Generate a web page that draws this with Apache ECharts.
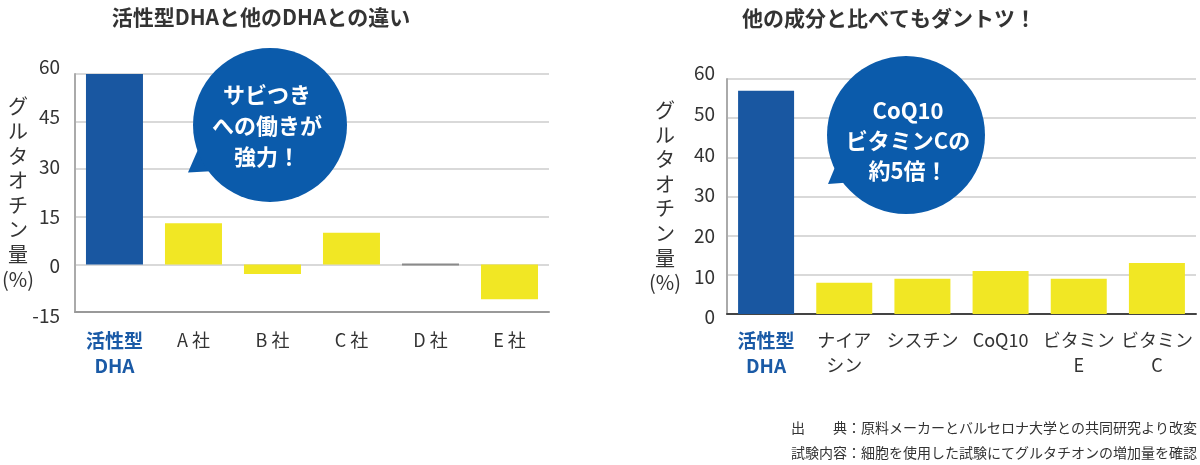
<!DOCTYPE html>
<html><head><meta charset="utf-8">
<script src="https://cdn.jsdelivr.net/npm/echarts@6/dist/echarts.min.js"></script>
<style>html,body{margin:0;padding:0;background:#fff}#c{width:1200px;height:465px}</style>
</head><body><div id="c"></div>
<script>
// ---- data ----
const leftTitle = '活性型DHAと他のDHAとの違い';
const leftCategories = ['活性型\nDHA', 'A 社', 'B 社', 'C 社', 'D 社', 'E 社'];
const leftValues = [60, 13, -3, 10, 0, -11];
const leftAxis = { min: -15, max: 60, interval: 15 };

const rightTitle = '他の成分と比べてもダントツ！';
const rightCategories = ['活性型\nDHA', 'ナイア\nシン', 'シスチン', 'CoQ10', 'ビタミン\nE', 'ビタミン\nC'];
const rightValues = [57, 8, 9, 11, 9, 13];
const rightAxis = { min: 0, max: 60, interval: 10 };

const yName = 'グ\nル\nタ\nオ\nチ\nン\n量\n(%)';
const leftBubble = 'サビつき\nへの働きが\n強力！';
const rightBubble = 'CoQ10\nビタミンCの\n約5倍！';
const footnotes = ['出　　典：原料メーカーとバルセロナ大学との共同研究より改変',
                   '試験内容：細胞を使用した試験にてグルタチオンの増加量を確認'];

// ---- style ----
const FONT = '"Noto Sans CJK JP", "Noto Sans", sans-serif';
const BLUE_BAR = '#1957a1';
const BLUE_BUBBLE = '#0b5bab';
const YELLOW = '#f1e724';
const TEXT = '#333333';

const chart = echarts.init(document.getElementById('c'), null, { renderer: 'canvas' });

function barData(values) {
  return values.map((v, i) => {
    if (i === 0) return { value: v, itemStyle: { color: BLUE_BAR } };
    if (v === 0) return { value: v, itemStyle: { color: '#8a8a8a', borderColor: '#8a8a8a', borderWidth: 2 } };
    return { value: v, itemStyle: { color: YELLOW } };
  });
}
function xLabelFormatter(value, idx) {
  const lines = value.split('\n');
  const tag = idx === 0 ? 'hl' : 'n';
  return lines.map(s => '{' + tag + '|' + s + '}').join('\n');
}
const xRich = {
  hl: { color: '#1a5aa6', fontSize: 19, fontWeight: 'bold', fontFamily: FONT, lineHeight: 25 },
  n: { color: TEXT, fontSize: 18, fontFamily: FONT, lineHeight: 25 }
};
// axis drawing the grid lines (no labels)
function yAxisLines(gridIndex, ax, nameGap) {
  return {
    type: 'value', gridIndex, min: ax.min, max: ax.max, interval: ax.interval,
    name: yName, nameLocation: 'middle', nameRotate: 0, nameGap,
    nameTextStyle: { color: TEXT, fontSize: 20, fontFamily: FONT, lineHeight: 24.6, align: 'center', verticalAlign: 'middle' },
    axisLine: { show: true, lineStyle: { color: '#aaaaaa', width: 2 } },
    axisTick: { show: false },
    axisLabel: { show: false },
    splitLine: { show: true, lineStyle: { color: '#cccccc', width: 1.5 } }
  };
}
// axis carrying the tick labels (labels spaced slightly wider than grid, as in the source artwork)
function yAxisLabels(gridIndex, ax, margin) {
  return {
    type: 'value', gridIndex, min: ax.min, max: ax.max, interval: ax.interval,
    axisLine: { show: false }, axisTick: { show: false }, splitLine: { show: false },
    axisLabel: { color: TEXT, fontSize: 19, fontFamily: FONT, margin }
  };
}

const option = {
  backgroundColor: '#ffffff',
  animation: false,
  title: [
    { text: leftTitle, left: 256, top: 2, textAlign: 'center',
      textStyle: { color: TEXT, fontSize: 21, fontWeight: 'bold', fontFamily: FONT } },
    { text: rightTitle, left: 884, top: 3, textAlign: 'center',
      textStyle: { color: TEXT, fontSize: 21, fontWeight: 'bold', fontFamily: FONT } }
  ],
  grid: [
    { left: 71, top: 74, width: 478, height: 238 },
    { left: 727, top: 79, width: 469, height: 235 },
    { left: 71, top: 67, width: 478, height: 249 },
    { left: 727, top: 73, width: 469, height: 244 }
  ],
  xAxis: [
    { type: 'category', gridIndex: 0, data: leftCategories,
      axisLine: { onZero: false, lineStyle: { color: '#999999', width: 2 } },
      axisTick: { show: false },
      axisLabel: { margin: 16, formatter: xLabelFormatter, rich: xRich, interval: 0 } },
    { type: 'category', gridIndex: 1, data: rightCategories,
      axisLine: { onZero: false, lineStyle: { color: '#444444', width: 2 } },
      axisTick: { show: false },
      axisLabel: { margin: 14, formatter: xLabelFormatter, rich: xRich, interval: 0 } },
    { type: 'category', gridIndex: 2, data: leftCategories, show: false },
    { type: 'category', gridIndex: 3, data: rightCategories, show: false }
  ],
  yAxis: [
    yAxisLines(0, leftAxis, 57),
    yAxisLines(1, rightAxis, 62),
    yAxisLabels(2, leftAxis, 11),
    yAxisLabels(3, rightAxis, 12)
  ],
  series: [
    { type: 'bar', xAxisIndex: 0, yAxisIndex: 0, data: barData(leftValues), barWidth: 57 },
    { type: 'bar', xAxisIndex: 1, yAxisIndex: 1, data: barData(rightValues), barWidth: 56 }
  ],
  graphic: [
    // left bubble
    { type: 'polygon', z: 10, shape: { points: [[200, 145], [188, 172.5], [215, 171]] }, style: { fill: BLUE_BUBBLE } },
    { type: 'circle', z: 10, shape: { cx: 270, cy: 125, r: 77 }, style: { fill: BLUE_BUBBLE } },
    { type: 'text', z: 11, x: 267, y: 126,
      style: { text: leftBubble, fill: '#ffffff', font: 'bold 22px ' + FONT, lineHeight: 31, align: 'center', verticalAlign: 'middle' } },
    // right bubble
    { type: 'polygon', z: 10, shape: { points: [[838, 160], [828, 184], [855, 182]] }, style: { fill: BLUE_BUBBLE } },
    { type: 'circle', z: 10, shape: { cx: 906, cy: 135, r: 79 }, style: { fill: BLUE_BUBBLE } },
    { type: 'text', z: 11, x: 908, y: 141,
      style: { text: rightBubble, fill: '#ffffff', font: 'bold 22px ' + FONT, lineHeight: 30, align: 'center', verticalAlign: 'middle' } },
    // footnotes
    { type: 'text', x: 1197, y: 428,
      style: { text: footnotes[0], fill: TEXT, font: '14px ' + FONT, align: 'right', verticalAlign: 'middle' } },
    { type: 'text', x: 1197, y: 453,
      style: { text: footnotes[1], fill: TEXT, font: '14px ' + FONT, align: 'right', verticalAlign: 'middle' } }
  ]
};
chart.setOption(option);
</script>
</body></html>
